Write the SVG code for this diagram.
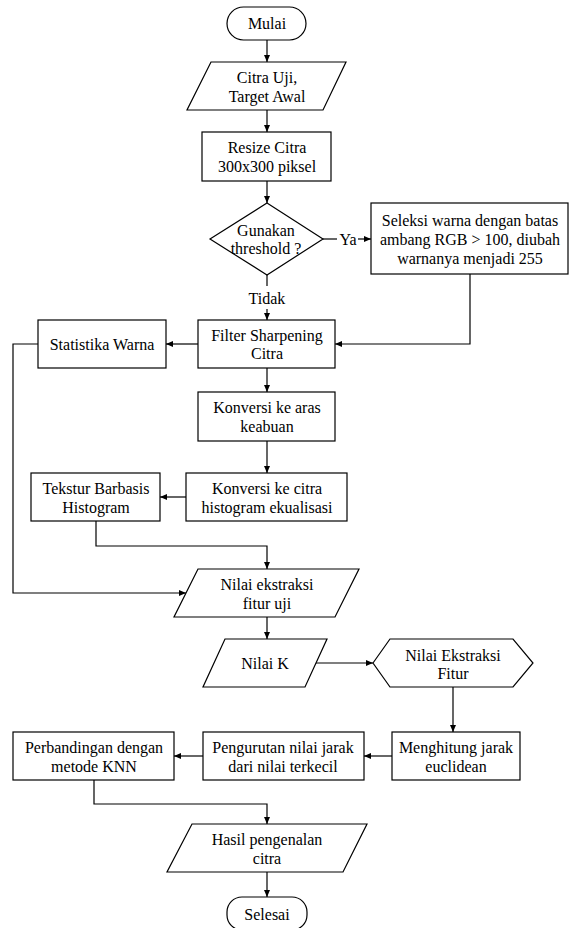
<svg xmlns="http://www.w3.org/2000/svg" width="569" height="928" viewBox="0 0 569 928">
<style>
.s{fill:#fff;stroke:#000;stroke-width:1.2}
text{font-family:'Liberation Serif','Times New Roman',serif;font-size:16px;fill:#000;text-anchor:middle}
.c{fill:none;stroke:#000;stroke-width:1.2}
</style>
<defs>
<marker id="a" markerUnits="userSpaceOnUse" markerWidth="7" markerHeight="6" refX="7" refY="3" orient="auto">
<path d="M0,0 L7,3 L0,6 z" fill="#000"/>
</marker>
</defs>
<rect width="569" height="928" fill="#fff"/>
<g id="connectors">
<path class="c" d="M267,40 V62" marker-end="url(#a)"/>
<path class="c" d="M267,110 V132" marker-end="url(#a)"/>
<path class="c" d="M267,181 V203" marker-end="url(#a)"/>
<path class="c" d="M323,239 H337"/>
<path class="c" d="M358,239 H371" marker-end="url(#a)"/>
<path class="c" d="M267,275 V286"/>
<path class="c" d="M267,309 V320" marker-end="url(#a)"/>
<path class="c" d="M470,274 V344 H335" marker-end="url(#a)"/>
<path class="c" d="M198,344 H166" marker-end="url(#a)"/>
<path class="c" d="M38,344 H13 V593 H186" marker-end="url(#a)"/>
<path class="c" d="M267,368 V392" marker-end="url(#a)"/>
<path class="c" d="M267,441 V473" marker-end="url(#a)"/>
<path class="c" d="M186,497 H160" marker-end="url(#a)"/>
<path class="c" d="M96,521 V546 H267 V569" marker-end="url(#a)"/>
<path class="c" d="M267,617 V639" marker-end="url(#a)"/>
<path class="c" d="M316,663 H373" marker-end="url(#a)"/>
<path class="c" d="M453,687 V732" marker-end="url(#a)"/>
<path class="c" d="M392,756 H364" marker-end="url(#a)"/>
<path class="c" d="M203,756 H174" marker-end="url(#a)"/>
<path class="c" d="M94,780 V804 H267 V824" marker-end="url(#a)"/>
<path class="c" d="M267,872 V897" marker-end="url(#a)"/>
<text x="348" y="245">Ya</text>
<text x="267" y="304">Tidak</text>
</g>
<g id="mulai"><rect class="s" x="227" y="7" width="79" height="33" rx="16.5"/><text x="267" y="29">Mulai</text></g>
<g id="input"><polygon class="s" points="211,62 346,62 323,110 187,110"/><text x="267" y="83">Citra Uji,</text><text x="267" y="102">Target Awal</text></g>
<g id="resize"><rect class="s" x="202" y="132" width="129" height="49"/><text x="267" y="153">Resize Citra</text><text x="267" y="172">300x300 piksel</text></g>
<g id="threshold"><polygon class="s" points="267,203 323,239 267,275 210,239"/><text x="266" y="236">Gunakan</text><text x="266" y="254">threshold ?</text></g>
<g id="seleksi"><rect class="s" x="371" y="203" width="197" height="71"/><text x="470" y="226">Seleksi warna dengan batas</text><text x="470" y="245">ambang RGB &gt; 100, diubah</text><text x="470" y="264">warnanya menjadi 255</text></g>
<g id="filter"><rect class="s" x="198" y="320" width="137" height="48"/><text x="267" y="341">Filter Sharpening</text><text x="267" y="359">Citra</text></g>
<g id="statistika"><rect class="s" x="38" y="320" width="128" height="48"/><text x="102" y="350">Statistika Warna</text></g>
<g id="aras"><rect class="s" x="198" y="392" width="137" height="49"/><text x="267" y="413">Konversi ke aras</text><text x="267" y="432">keabuan</text></g>
<g id="histogram"><rect class="s" x="186" y="473" width="161" height="48"/><text x="267" y="494">Konversi ke citra</text><text x="267" y="513">histogram ekualisasi</text></g>
<g id="tekstur"><rect class="s" x="31" y="473" width="129" height="48"/><text x="96" y="494">Tekstur Barbasis</text><text x="96" y="513">Histogram</text></g>
<g id="ekstraksi"><polygon class="s" points="198,569 359,569 335,617 174,617"/><text x="267" y="590">Nilai ekstraksi</text><text x="267" y="609">fitur uji</text></g>
<g id="nilaik"><polygon class="s" points="225,639 327,639 305,687 203,687"/><text x="265" y="669">Nilai K</text></g>
<g id="fitur"><polygon class="s" points="373,663 390,639 513,639 533,663 513,687 390,687"/><text x="453" y="661">Nilai Ekstraksi</text><text x="453" y="679">Fitur</text></g>
<g id="euclidean"><rect class="s" x="392" y="732" width="128" height="48"/><text x="456" y="753">Menghitung jarak</text><text x="456" y="772">euclidean</text></g>
<g id="pengurutan"><rect class="s" x="203" y="732" width="161" height="48"/><text x="283" y="753">Pengurutan nilai jarak</text><text x="283" y="772">dari nilai terkecil</text></g>
<g id="knn"><rect class="s" x="13" y="732" width="161" height="48"/><text x="94" y="753">Perbandingan dengan</text><text x="94" y="772">metode KNN</text></g>
<g id="hasil"><polygon class="s" points="192,824 367,824 343,872 167,872"/><text x="267" y="845">Hasil pengenalan</text><text x="267" y="864">citra</text></g>
<g id="selesai"><rect class="s" x="227" y="897" width="80" height="33" rx="15"/><text x="267" y="920">Selesai</text></g>
</svg>
